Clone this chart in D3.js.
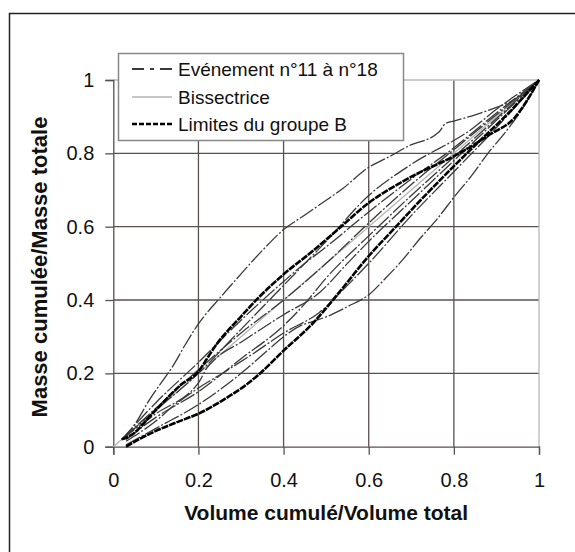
<!DOCTYPE html>
<html><head><meta charset="utf-8">
<script src="https://cdn.jsdelivr.net/npm/d3@7"></script>
<style>body{margin:0;background:#fff}svg{display:block}</style>
</head><body>
<svg id="c" width="575" height="552"></svg>
<script>
const xTicks = [0, 0.2, 0.4, 0.6, 0.8, 1];
const yTicks = [0, 0.2, 0.4, 0.6, 0.8, 1];
const xTitle = "Volume cumulé/Volume total";
const yTitle = "Masse cumulée/Masse totale";
const legendLabels = ["Evénement n°11 à n°18", "Bissectrice", "Limites du groupe B"];

// Bissectrice
const bisector = [[0,0],[1,1]];

// Limites du groupe B (upper and lower)
const limitUpper = [[0.02,0.02],[0.04,0.03],[0.1,0.1],[0.16,0.17],[0.2,0.205],[0.22,0.24],[0.24,0.275],[0.3,0.355],[0.34,0.405],[0.4,0.47],[0.47,0.535],[0.53,0.595],[0.6,0.665],[0.66,0.71],[0.72,0.748],[0.77,0.775],[0.8,0.792],[0.88,0.848],[0.945,0.9],[1,1]];
const limitLower = [[0.03,0.0],[0.06,0.02],[0.1,0.043],[0.15,0.067],[0.2,0.09],[0.27,0.136],[0.31,0.167],[0.34,0.195],[0.4,0.262],[0.47,0.338],[0.53,0.42],[0.6,0.52],[0.66,0.595],[0.72,0.67],[0.8,0.765],[0.85,0.822],[0.92,0.9],[1,1]];

// Evénements n°11 à n°18
const ev11 = [[0.02,0.02],[0.05,0.06],[0.086,0.13],[0.11,0.17],[0.14,0.22],[0.17,0.28],[0.2,0.335],[0.25,0.405],[0.29,0.458],[0.35,0.535],[0.4,0.592],[0.45,0.632],[0.5,0.672],[0.54,0.705],[0.6,0.762],[0.65,0.792],[0.69,0.818],[0.765,0.858],[0.78,0.881],[0.8,0.888],[0.85,0.905],[0.88,0.917],[0.945,0.949],[1,1]];
const ev12 = [[0.03,0.005],[0.1,0.05],[0.2,0.115],[0.3,0.2],[0.36,0.26],[0.4,0.3],[0.44,0.33],[0.47,0.342],[0.5,0.354],[0.55,0.382],[0.6,0.414],[0.64,0.46],[0.68,0.51],[0.72,0.567],[0.76,0.62],[0.8,0.68],[0.843,0.741],[0.88,0.8],[0.922,0.859],[0.96,0.92],[1,1]];
const ev13 = [[0.02,0.02],[0.1,0.12],[0.2,0.23],[0.3,0.345],[0.38,0.43],[0.45,0.5],[0.5,0.545],[0.6,0.64],[0.7,0.73],[0.8,0.815],[0.9,0.91],[1,1]];
const ev14 = [[0.03,0.03],[0.1,0.1],[0.2,0.2],[0.3,0.32],[0.4,0.44],[0.5,0.56],[0.6,0.685],[0.7,0.77],[0.843,0.867],[0.9,0.92],[1,1]];
const ev15 = [[0.03,0.015],[0.1,0.07],[0.14,0.11],[0.2,0.16],[0.27,0.21],[0.33,0.255],[0.4,0.31],[0.484,0.366],[0.55,0.44],[0.6,0.5],[0.7,0.63],[0.8,0.75],[0.9,0.87],[1,1]];
const ev16 = [[0.02,0.02],[0.1,0.09],[0.19,0.16],[0.2,0.174],[0.22,0.215],[0.24,0.24],[0.3,0.285],[0.4,0.36],[0.484,0.42],[0.55,0.5],[0.6,0.56],[0.7,0.67],[0.8,0.78],[0.9,0.89],[1,1]];
const ev17 = [[0.03,0.02],[0.1,0.08],[0.2,0.15],[0.3,0.24],[0.4,0.33],[0.45,0.39],[0.5,0.46],[0.6,0.575],[0.7,0.685],[0.8,0.79],[0.9,0.895],[1,1]];
const ev18 = [[0.02,0.02],[0.1,0.105],[0.2,0.21],[0.3,0.31],[0.4,0.4],[0.5,0.5],[0.6,0.61],[0.7,0.715],[0.8,0.81],[0.9,0.905],[1,1]];
const events = [ev11, ev12, ev13, ev14, ev15, ev16, ev17, ev18];
const limits = [limitUpper, limitLower];

const svg = d3.select("#c");
svg.append("rect").attr("x",9.5).attr("y",13.5).attr("width",600).attr("height",600)
  .attr("fill","#fff").attr("stroke","#222").attr("stroke-width",1.5);

const x = d3.scaleLinear().domain([0,1]).range([113.3,539]);
const y = d3.scaleLinear().domain([0,1]).range([446.7,80]);
const font = "'Liberation Sans', Arial, sans-serif";
const gridCol = "#5a5050";

// grid
const g = svg.append("g");
g.selectAll(".gx").data(xTicks.filter(d=>d>0 && d<1)).enter().append("line")
  .attr("x1",d=>x(d)).attr("x2",d=>x(d)).attr("y1",y(0)).attr("y2",y(1))
  .attr("stroke",gridCol).attr("stroke-width",1.3);
g.selectAll(".gy").data(yTicks.filter(d=>d>0 && d<1)).enter().append("line")
  .attr("x1",x(0)).attr("x2",x(1)).attr("y1",d=>y(d)).attr("y2",d=>y(d))
  .attr("stroke",gridCol).attr("stroke-width",1.3);
// plot border top/right (light)
g.append("line").attr("x1",x(0)).attr("x2",x(1)).attr("y1",y(1)).attr("y2",y(1)).attr("stroke","#b8b8b8").attr("stroke-width",1.3);
g.append("line").attr("x1",x(1)).attr("x2",x(1)).attr("y1",y(0)).attr("y2",y(1)).attr("stroke","#b8b8b8").attr("stroke-width",1.3);

// axes
const xAxis = d3.axisBottom(x).tickValues(xTicks).tickSize(8).tickPadding(18).tickFormat(d3.format("~g"));
const yAxis = d3.axisLeft(y).tickValues(yTicks).tickSize(8).tickPadding(11).tickFormat(d3.format("~g"));
const ax = svg.append("g").attr("transform",`translate(0,${y(0)})`).call(xAxis);
const ay = svg.append("g").attr("transform",`translate(${x(0)},0)`).call(yAxis);
[ax,ay].forEach(a=>{
  a.select(".domain").attr("stroke",gridCol).attr("stroke-width",1.3);
  a.selectAll(".tick line").attr("stroke",gridCol).attr("stroke-width",1.3);
  a.selectAll(".tick text").attr("font-family",font).attr("font-size",20).attr("fill","#111");
});

// lines
const line = d3.line().x(d=>x(d[0])).y(d=>y(d[1])).curve(d3.curveMonotoneX);
const lineB = d3.line().x(d=>x(d[0])).y(d=>y(d[1]));
svg.append("path").datum(bisector).attr("d",lineB).attr("fill","none").attr("stroke","#b5b5b5").attr("stroke-width",1.3);
svg.selectAll(".ev").data(events).enter().append("path").attr("d",line)
  .attr("fill","none").attr("stroke","#3a3a3a").attr("stroke-width",1.3)
  .attr("stroke-dasharray","16,2,2,2");
svg.selectAll(".lim").data(limits).enter().append("path").attr("d",line)
  .attr("fill","none").attr("stroke","#000").attr("stroke-width",2.6)
  .attr("stroke-dasharray","7,1");

// legend
const lg = svg.append("g");
lg.append("rect").attr("x",118.5).attr("y",53.5).attr("width",285).attr("height",87)
  .attr("fill","#fff").attr("stroke","#888").attr("stroke-width",1.5);
const ly = [69,97,124];
const lstyles = [
  {stroke:"#3a3a3a", w:2.2, dash:"12,6,4,6"},
  {stroke:"#b5b5b5", w:1.3, dash:null},
  {stroke:"#000", w:2.4, dash:"5,2"}
];
legendLabels.forEach((t,i)=>{
  lg.append("line").attr("x1",132).attr("x2",172).attr("y1",ly[i]).attr("y2",ly[i])
    .attr("stroke",lstyles[i].stroke).attr("stroke-width",lstyles[i].w)
    .attr("stroke-dasharray",lstyles[i].dash);
  lg.append("text").attr("x",178).attr("y",ly[i]).attr("dy","0.35em")
    .attr("font-family",font).attr("font-size",19).attr("fill","#111").text(t);
});

// titles
svg.append("text").attr("x",(x(0)+x(1))/2).attr("y",513).attr("dy","0.35em").attr("text-anchor","middle")
  .attr("font-family",font).attr("font-weight","bold").attr("font-size",21).attr("fill","#111").text(xTitle);
svg.append("text").attr("transform",`translate(39,${y(0.49)}) rotate(-90)`).attr("dy","0.35em").attr("text-anchor","middle")
  .attr("font-family",font).attr("font-weight","bold").attr("font-size",22).attr("fill","#111").text(yTitle);
</script>
</body></html>
